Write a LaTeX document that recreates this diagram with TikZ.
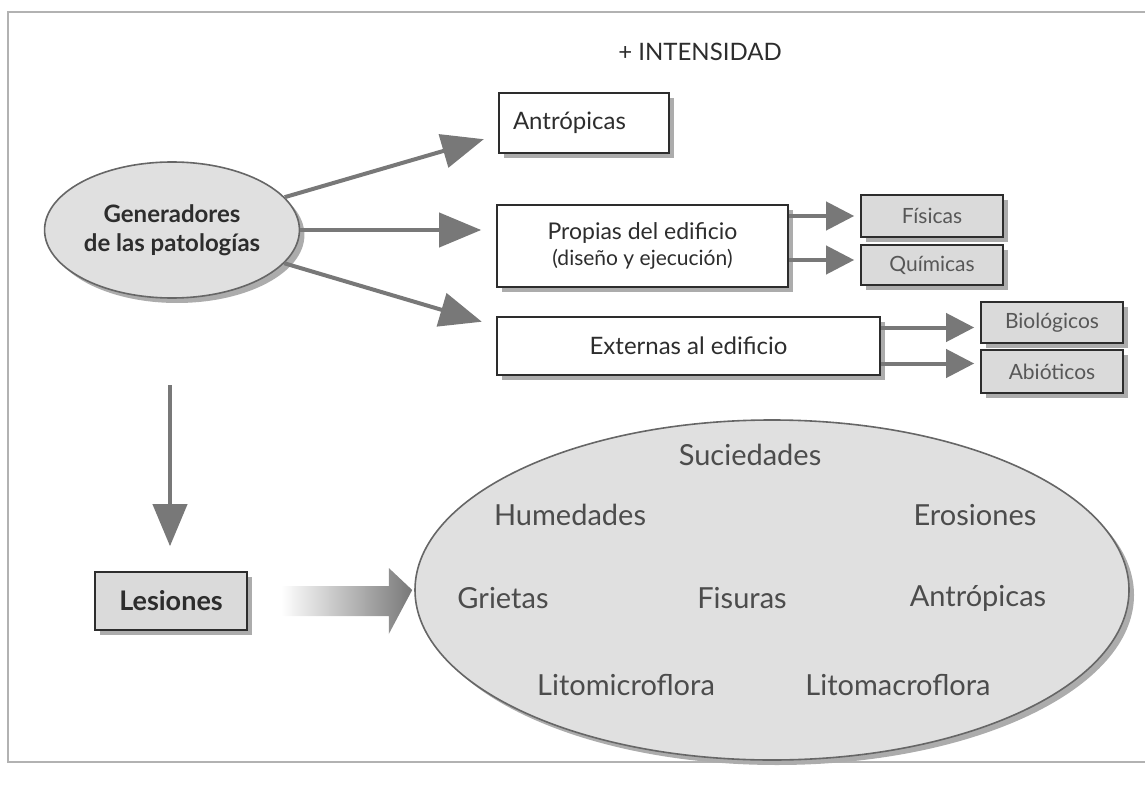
\documentclass[tikz,border=0pt]{standalone}
\usepackage{fontspec}
\setmainfont{Lato}
\usepackage{xcolor}
\usetikzlibrary{arrows.meta,shadows,shapes.geometric}
\definecolor{ink}{RGB}{45,45,45}
\definecolor{arr}{RGB}{120,120,120}
\definecolor{boxgray}{RGB}{218,218,218}
\definecolor{ellgray}{RGB}{224,224,224}

\begin{document}
\begin{tikzpicture}[
    x=0.5pt, y=-0.5pt,
    font=\color{ink},
    box/.style={rectangle, draw=ink, line width=0.8pt, fill=white, align=center,
        font=\fontsize{11.5}{14}\selectfont\color{ink},
        drop shadow={shadow xshift=2.5pt, shadow yshift=-2.5pt, fill=gray!65, opacity=1}},
    grbox/.style={box, fill=boxgray, inner sep=2pt, font=\fontsize{10.5}{12}\selectfont\color{ink!80}},
    oval/.style={ellipse, draw=gray!80!black, line width=0.8pt, fill=ellgray,
        drop shadow={shadow xshift=2.5pt, shadow yshift=-2.5pt, fill=gray!65, opacity=1}},
    word/.style={font=\fontsize{14.5}{16}\selectfont\color{ink!85}},
    arrow/.style={line width=2pt, draw=arr, -{Triangle[length=21pt, width=17pt]}, shorten >=7.5pt},
    small/.style={line width=2pt, draw=arr, -{Triangle[length=14pt, width=14pt]}, shorten >=3pt}
]
\useasboundingbox (0,0) rectangle (1145,791);

% Frame
\draw[gray!60, line width=1pt] (1145,12) -- (8,12) -- (8,762) -- (1145,762);

% Nodes
\node[font=\fontsize{12}{14}\selectfont\color{ink}] (intens) at (700,52) {+ INTENSIDAD};
\node[oval, minimum width=125pt, minimum height=68pt, align=center, inner sep=1pt,
      font=\bfseries\fontsize{12}{14.5}\selectfont\color{ink}] (gen) at (172,230) {Generadores\\de las patologías};
\node[box, text width=71pt, inner sep=7pt, minimum height=30pt, align=left,
      font=\fontsize{12}{14}\selectfont\color{ink}] (antr) at (584,123) {Antrópicas};
\node[box, minimum width=145.5pt, minimum height=41pt] (prop) at (642.5,246)
      {Propias del edificio\\[-1pt]{\fontsize{10.5}{13}\selectfont (diseño y ejecución)}};
\node[box, minimum width=191.5pt, minimum height=29pt, font=\fontsize{12}{14}\selectfont\color{ink}] (ext) at (688.5,346) {Externas al edificio};
\node[grbox, minimum width=71pt, minimum height=21pt] (fis) at (932,216) {Físicas};
\node[grbox, minimum width=71pt, minimum height=20pt] (quim) at (932,265) {Químicas};
\node[grbox, minimum width=71pt, minimum height=20.5pt] (bio) at (1052,322.5) {Biológicos};
\node[grbox, minimum width=71pt, minimum height=21.5pt] (abio) at (1052,371.5) {Abióticos};
\node[box, fill=boxgray, minimum width=76pt, minimum height=29pt,
      font=\bfseries\fontsize{13.5}{15}\selectfont\color{ink}] (les) at (171,601) {Lesiones};
\node[oval, minimum width=357pt, minimum height=170pt] (lesell) at (772,590) {};
\coordinate (top) at (170,385);

% Words inside the oval
\node[word] (w1) at (750,455) {Suciedades};
\node[word] (w2) at (570,515) {Humedades};
\node[word] (w3) at (975,515) {Erosiones};
\node[word] (w4) at (503,598) {Grietas};
\node[word] (w5) at (742,598) {Fisuras};
\node[word] (w6) at (978,598) {Antrópicas};
\node[word] (w7) at (626,685) {Litomicroflora};
\node[word] (w8) at (898,685) {Litomacroflora};

% Arrows
\draw[arrow] (gen) -- ([yshift=-6pt]antr.west);
\draw[arrow] (gen) -- (prop.west |- gen);
\draw[arrow] (gen) -- ([yshift=10pt]ext.west);
\draw[small] (fis.west -| prop.east) -- (fis.west);
\draw[small] ([yshift=2.5pt]quim.west -| prop.east) -- ([yshift=2.5pt]quim.west);
\draw[small] ([yshift=-2.5pt]bio.west -| ext.east) -- ([yshift=-2.5pt]bio.west);
\draw[small] ([yshift=4pt]abio.west -| ext.east) -- ([yshift=4pt]abio.west);
\draw[arrow, shorten >=12.5pt] (top) -- (top |- les.north);

% Gradient arrow
\shade[left color=white, right color=arr, draw=none]
    ([xshift=16.5pt, yshift=7.5pt]les.east) -- ([xshift=70.5pt, yshift=7.5pt]les.east)
    -- ([xshift=70.5pt, yshift=16.5pt]les.east) -- ([xshift=-1pt]lesell.west)
    -- ([xshift=70.5pt, yshift=-16.5pt]les.east) -- ([xshift=70.5pt, yshift=-7.5pt]les.east)
    -- ([xshift=16.5pt, yshift=-7.5pt]les.east) -- cycle;

\end{tikzpicture}
\end{document}
